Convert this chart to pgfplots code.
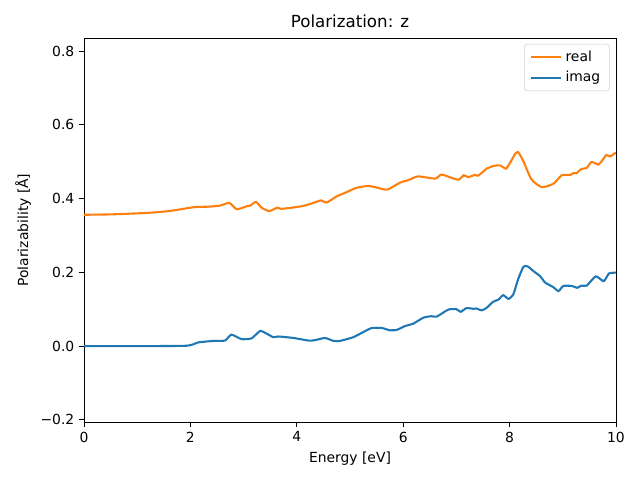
\documentclass[border=0pt]{standalone}
\usepackage{fontspec}
\setmainfont{DejaVu Sans}
\usepackage{pgfplots}
\pgfplotsset{compat=1.18}
\definecolor{mplorange}{HTML}{FF7F0E}
\definecolor{mplblue}{HTML}{1F77B4}
\begin{document}
\begin{tikzpicture}
\begin{axis}[
  scale only axis,
  width=383pt, height=276.5pt,
  xmin=0, xmax=10, ymin=-0.206, ymax=0.835,
  xtick={0,2,4,6,8,10},
  ytick={-0.2,0,0.2,0.4,0.6,0.8},
  yticklabels={−0.2,0.0,0.2,0.4,0.6,0.8},
  /pgf/number format/assume math mode=true,
  tick align=outside, tick pos=left,
  major tick length=3.5pt,
  tick style={black, line width=0.6pt},
  axis line style={line width=0.6pt},
  every tick label/.style={font=\fontsize{10}{12}\selectfont},
  xlabel={Energy [eV]}, ylabel={Polarizability [Å]},
  label style={font=\fontsize{10}{12}\selectfont},
  title={Polarization: z},
  title style={font=\fontsize{12}{14}\selectfont, yshift=-2pt},
  legend cell align=left,
  legend style={font=\fontsize{10}{12}\selectfont, draw=black!20, rounded corners=2pt, fill=white, fill opacity=0.8, text opacity=1, inner xsep=4pt, inner ysep=3pt, row sep=1.5pt, nodes={inner xsep=2.5pt, inner ysep=2pt}, at={(0.988,0.985)}, anchor=north east},
  legend image code/.code={\draw[#1, line width=1.5pt] (0pt,0pt) -- (21.6pt,0pt);},
]
\addplot[mplorange, line width=1.5pt, smooth, tension=0.35] coordinates {
(0,0.356)(0.5,0.357)(1.18,0.361)(1.6,0.366)(1.99,0.375)(2.09,0.377)(2.35,0.378)(2.56,0.381)(2.73,0.388)(2.87,0.371)(3.06,0.379)(3.13,0.381)(3.23,0.391)(3.34,0.375)(3.48,0.366)(3.63,0.375)(3.71,0.372)(4.0,0.377)(4.15,0.381)(4.37,0.391)(4.46,0.395)(4.56,0.389)(4.75,0.406)(4.9,0.415)(5.12,0.429)(5.34,0.434)(5.5,0.430)(5.63,0.425)(5.72,0.425)(5.94,0.443)(6.10,0.450)(6.28,0.460)(6.60,0.454)(6.72,0.465)(6.91,0.456)(7.04,0.451)(7.14,0.463)(7.22,0.458)(7.35,0.464)(7.41,0.462)(7.57,0.481)(7.69,0.488)(7.82,0.490)(7.93,0.481)(8.01,0.497)(8.10,0.520)(8.16,0.526)(8.26,0.501)(8.41,0.452)(8.60,0.431)(8.76,0.436)(8.85,0.443)(8.98,0.463)(9.14,0.464)(9.20,0.469)(9.26,0.469)(9.35,0.480)(9.45,0.483)(9.54,0.499)(9.67,0.492)(9.73,0.501)(9.82,0.518)(9.89,0.514)(10,0.525)
};
\addlegendentry{real}
\addplot[mplblue, line width=1.5pt, smooth, tension=0.35] coordinates {
(0,0.0)(1.0,0.0)(1.93,0.001)(2.15,0.010)(2.43,0.014)(2.65,0.015)(2.77,0.031)(2.96,0.019)(3.15,0.021)(3.31,0.041)(3.43,0.034)(3.56,0.024)(3.65,0.026)(3.94,0.022)(4.22,0.015)(4.34,0.016)(4.53,0.022)(4.69,0.014)(4.81,0.014)(5.06,0.024)(5.25,0.038)(5.41,0.049)(5.60,0.049)(5.75,0.043)(5.88,0.044)(6.03,0.054)(6.19,0.061)(6.38,0.077)(6.53,0.081)(6.63,0.080)(6.85,0.099)(7.00,0.100)(7.08,0.093)(7.19,0.103)(7.32,0.101)(7.37,0.102)(7.48,0.097)(7.57,0.104)(7.69,0.120)(7.79,0.126)(7.88,0.138)(7.98,0.128)(8.07,0.140)(8.16,0.181)(8.26,0.215)(8.34,0.216)(8.45,0.203)(8.57,0.190)(8.67,0.172)(8.82,0.160)(8.92,0.149)(9.01,0.163)(9.17,0.163)(9.27,0.158)(9.35,0.164)(9.45,0.164)(9.62,0.189)(9.77,0.176)(9.87,0.197)(10,0.199)
};
\addlegendentry{imag}
\end{axis}
\path (current axis.south west) ++(-60.5pt,-41.8pt) coordinate (bbA);
\path (current axis.north east) ++(17.3pt,27.4pt) coordinate (bbB);
\useasboundingbox (bbA) rectangle (bbB);
\end{tikzpicture}
\end{document}
